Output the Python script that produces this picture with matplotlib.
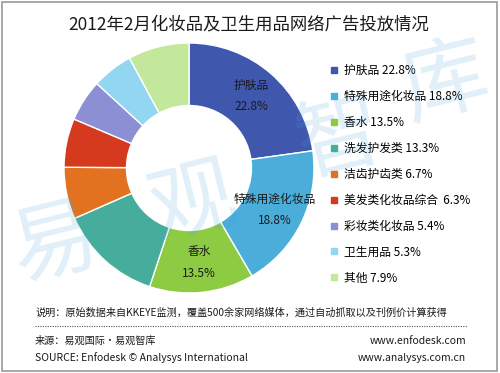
import matplotlib
matplotlib.use("Agg")
import matplotlib.pyplot as plt
import numpy as np
from matplotlib.patches import Rectangle
from matplotlib.lines import Line2D

plt.rcParams['font.family'] = ['Noto Sans CJK SC', 'DejaVu Sans']

title = "2012年2月化妆品及卫生用品网络广告投放情况"
categories = ["护肤品", "特殊用途化妆品", "香水", "洗发护发类", "洁齿护齿类",
              "美发类化妆品综合", "彩妆类化妆品", "卫生用品", "其他"]
values = [22.8, 18.8, 13.5, 13.3, 6.7, 6.3, 5.4, 5.3, 7.9]
legend_labels = ["护肤品 22.8%", "特殊用途化妆品 18.8%", "香水 13.5%", "洗发护发类 13.3%",
                 "洁齿护齿类 6.7%", "美发类化妆品综合  6.3%", "彩妆类化妆品 5.4%",
                 "卫生用品 5.3%", "其他 7.9%"]
colors = ["#3F58AE", "#4BAEDA", "#8DCB43", "#46AD9C", "#E2721F",
          "#D5391E", "#8C8FD3", "#92D6F1", "#C3E89C"]
labeled = [0, 1, 2]
note = "说明：原始数据来自KKEYE监测，覆盖500余家网络媒体，通过自动抓取以及刊例价计算获得"
source_cn = "来源：易观国际·易观智库"
source_en = "SOURCE: Enfodesk © Analysys International"
url1 = "www.enfodesk.com"
url2 = "www.analysys.com.cn"
watermark = ["易", "观", "智", "库"]

W, H = 500, 373
fig = plt.figure(figsize=(W / 100, H / 100), dpi=100)
fig.patch.set_facecolor("white")

def fx(x):
    return x / W

def fy(y):
    return 1 - y / H

# Frame
fig.add_artist(Rectangle((fx(2), fy(371)), fx(495), (369) / H, transform=fig.transFigure,
                         fill=False, edgecolor="#9A9A9A", linewidth=1.2))

# Title
fig.text(fx(249), fy(24), title, ha="center", va="center", fontsize=12.5, color="#1A1A1A")

# Donut
cx, cy, r = 189, 168, 125
ax = fig.add_axes([fx(cx - r), fy(cy + r), 2 * r / W, 2 * r / H])
wedges, _ = ax.pie(values, colors=colors, startangle=90, counterclock=False,
                   wedgeprops=dict(width=0.5, edgecolor="white", linewidth=1.0))
ax.set_xlim(-1, 1)
ax.set_ylim(-1, 1)
ax.set_aspect("auto")
ax.axis("off")

for i in labeled:
    w = wedges[i]
    ang = np.deg2rad((w.theta1 + w.theta2) / 2)
    rr = 0.76
    x, y = rr * np.cos(ang), rr * np.sin(ang)
    ax.text(x, y + 0.085, categories[i], ha="center", va="center", fontsize=8.5, color="#1A1A1A")
    ax.text(x, y - 0.085, f"{values[i]}%", ha="center", va="center", fontsize=8.5, color="#1A1A1A")

# Legend
handles = [Line2D([0], [0], marker="s", linestyle="", markersize=5,
                  markerfacecolor=c, markeredgecolor=c) for c in colors]
fig.legend(handles, legend_labels, loc="upper left", bbox_to_anchor=(fx(326), fy(59)),
           frameon=False, fontsize=8.5, handlelength=0.6, handletextpad=0.5,
           labelspacing=1.1, borderaxespad=0)

# Watermark
wm_pos = [(55, 245), (192, 205), (340, 140), (445, 85)]
for ch, (x, y) in zip(watermark, wm_pos):
    fig.text(fx(x), fy(y), ch, ha="center", va="center", fontsize=62, color="#4A9FE0",
             alpha=0.17, rotation=14, zorder=10)

# Footnotes
fig.text(fx(35), fy(313), note, ha="left", va="center", fontsize=7.3, color="#1A1A1A")
fig.add_artist(Line2D([fx(35), fx(467)], [fy(326), fy(326)], transform=fig.transFigure,
                      color="#555555", linewidth=0.8, linestyle=(0, (1, 1.2))))
fig.text(fx(35), fy(341), source_cn, ha="left", va="center", fontsize=7.3, color="#1A1A1A")
fig.text(fx(35), fy(358), source_en, ha="left", va="center", fontsize=7.5, color="#1A1A1A")
fig.text(fx(466), fy(341), url1, ha="right", va="center", fontsize=7.5, color="#1A1A1A")
fig.text(fx(466), fy(358), url2, ha="right", va="center", fontsize=7.5, color="#1A1A1A")

fig.savefig("out.png", dpi=100, facecolor="white")
